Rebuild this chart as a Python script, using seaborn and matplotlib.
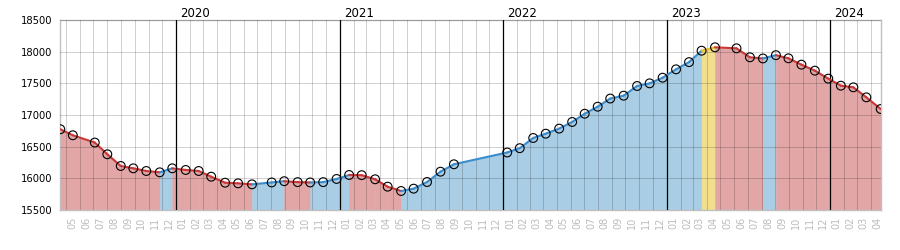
import matplotlib
matplotlib.use("Agg")
import matplotlib.pyplot as plt
import matplotlib.dates as mdates
import seaborn as sns
import pandas as pd

# ---- data ----
dates = [
    "2019-04-18", "2019-05-16", "2019-07-04", "2019-08-01", "2019-08-31", "2019-09-28",
    "2019-10-27", "2019-11-26", "2019-12-24", "2020-01-23", "2020-02-21", "2020-03-20",
    "2020-04-20", "2020-05-19", "2020-06-19", "2020-08-02", "2020-08-30", "2020-09-29",
    "2020-10-27", "2020-11-25", "2020-12-25", "2021-01-22", "2021-02-19", "2021-03-21",
    "2021-04-18", "2021-05-18", "2021-06-15", "2021-07-15", "2021-08-14", "2021-09-13",
    "2022-01-10", "2022-02-07", "2022-03-09", "2022-04-06", "2022-05-06", "2022-06-04",
    "2022-07-02", "2022-07-31", "2022-08-28", "2022-09-27", "2022-10-27", "2022-11-24",
    "2022-12-23", "2023-01-22", "2023-02-20", "2023-03-20", "2023-04-19", "2023-06-06",
    "2023-07-06", "2023-08-04", "2023-09-02", "2023-09-30", "2023-10-29", "2023-11-28",
    "2023-12-28", "2024-01-25", "2024-02-22", "2024-03-22", "2024-04-23",
]
values = [
    16775, 16680, 16565, 16380, 16195, 16158,
    16116, 16095, 16158, 16132, 16116, 16026,
    15931, 15921, 15905, 15935, 15955, 15940,
    15935, 15940, 15990, 16053, 16050, 15985,
    15868, 15800, 15837, 15942, 16105, 16222,
    16408, 16476, 16637, 16705, 16785, 16890,
    17020, 17131, 17260, 17305, 17458, 17500,
    17589, 17721, 17835, 18015, 18069, 18053,
    17911, 17893, 17945, 17895, 17795, 17700,
    17574, 17463, 17437, 17279, 17095,
]
# trend of each segment between consecutive points: d = down, u = up, f = flat
trend = ("ddddddd" "u" "dddddd" "uu" "dd" "uuu" "dddd"
         "uuuuuuuuuuuuuuuuuuuu" "f" "ddd" "u" "dddddddd")
y_ticks = [15500, 16000, 16500, 17000, 17500, 18000, 18500]
years = [2020, 2021, 2022, 2023, 2024]

fill_colors = {"d": "#e2a6a6", "u": "#a9cde4", "f": "#f1df8e"}
line_colors = {"d": "#c83838", "u": "#3a8ccc", "f": "#e6bf2a"}

df = pd.DataFrame({"date": pd.to_datetime(dates), "value": values})

sns.set_style("white")
plt.rcParams["font.family"] = ["DejaVu Sans"]

fig = plt.figure(figsize=(9, 2.5), dpi=100)
ax = fig.add_axes([60.3 / 900, 1 - 210 / 250, (880.7 - 60.3) / 900, 190 / 250])

ymin = y_ticks[0]
for i, t in enumerate(trend):
    seg = df.iloc[i:i + 2]
    ax.fill_between(seg["date"], seg["value"], ymin, color=fill_colors[t],
                    linewidth=0.4, edgecolor=fill_colors[t], zorder=1)
    sns.lineplot(data=seg, x="date", y="value", color=line_colors[t],
                 linewidth=1.5, ax=ax, zorder=3, estimator=None)

sns.scatterplot(data=df, x="date", y="value", marker="o", s=40,
                facecolor="none", edgecolor="black", linewidth=0.8,
                ax=ax, zorder=4)

ax.set_xlim(df["date"].iloc[0], df["date"].iloc[-1])
ax.set_ylim(y_ticks[0], y_ticks[-1])
ax.set_yticks(y_ticks)
ax.set_yticklabels([str(v) for v in y_ticks], fontsize=7.2, color="black")

ax.xaxis.set_major_locator(mdates.MonthLocator())
ax.xaxis.set_major_formatter(plt.NullFormatter())
ax.xaxis.set_minor_locator(mdates.MonthLocator(bymonthday=16))
ax.xaxis.set_minor_formatter(mdates.DateFormatter("%m"))
ax.tick_params(axis="x", which="both", length=0)
ax.tick_params(axis="x", which="minor", pad=5, labelsize=7, labelcolor="#bdbdbd",
               labelrotation=90)
ax.tick_params(axis="y", length=0, pad=5.5)

ax.set_axisbelow(False)
ax.grid(True, which="major", axis="both", color="black", alpha=0.18, linewidth=0.72)

for y in years:
    d = pd.Timestamp(f"{y}-01-01")
    ax.axvline(d, color="black", linewidth=0.9, zorder=2.6)
    ax.annotate(str(y), xy=(mdates.date2num(d), 1), xycoords=("data", "axes fraction"),
                xytext=(3, 2.2), textcoords="offset points", ha="left", va="baseline",
                fontsize=8.5, color="black")

for s in ax.spines.values():
    s.set_color("#c0c0c0")
    s.set_linewidth(1.0)

ax.set_xlabel("")
ax.set_ylabel("")
fig.savefig("out.png", dpi=100)
